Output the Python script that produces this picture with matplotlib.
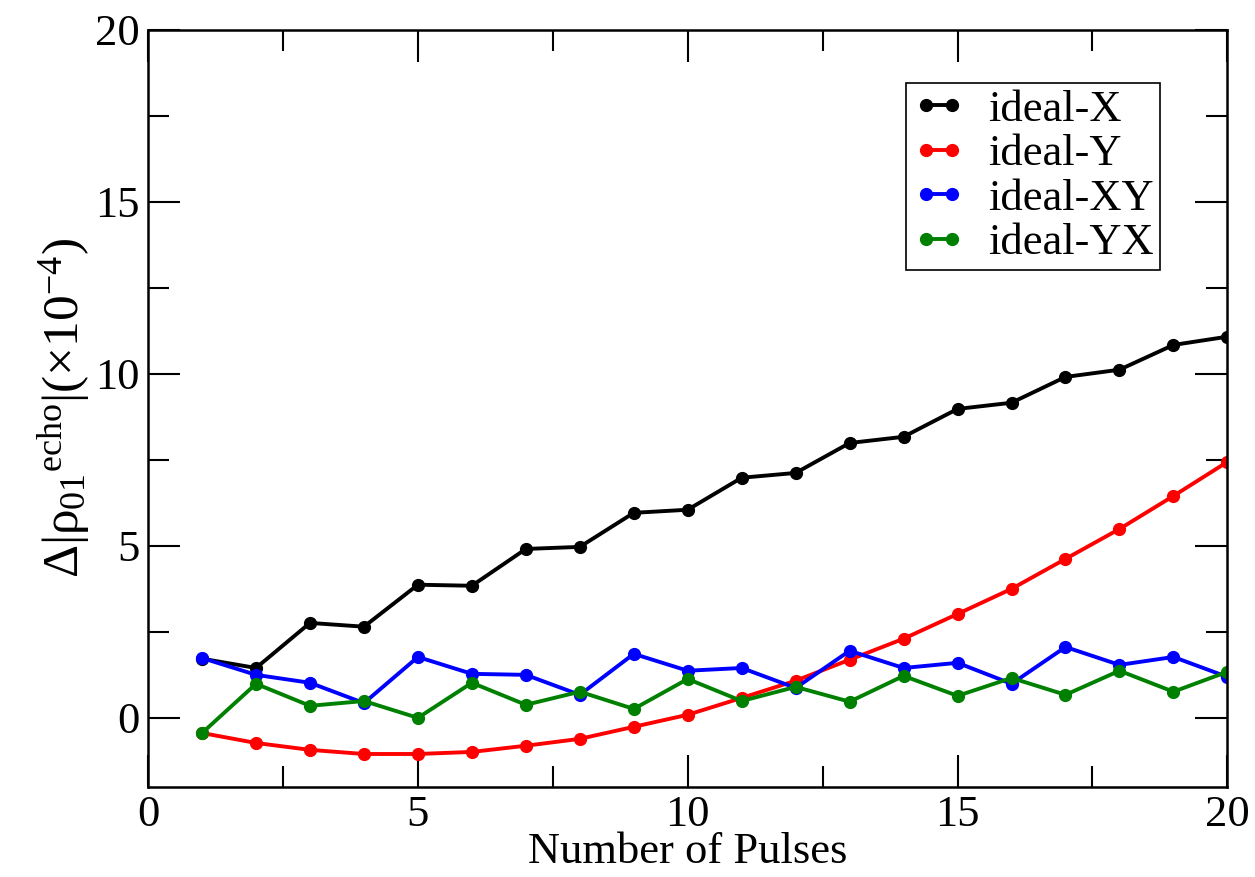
import matplotlib
matplotlib.use('Agg')
import matplotlib.pyplot as plt
from matplotlib.ticker import MultipleLocator

plt.rcParams['font.family'] = ['Liberation Serif', 'DejaVu Serif']
plt.rcParams['mathtext.fontset'] = 'custom'
plt.rcParams['mathtext.rm'] = 'Liberation Serif'
plt.rcParams['mathtext.it'] = 'Liberation Serif'

pulses = list(range(1, 21))
ideal_x = [1.72, 1.45, 2.76, 2.65, 3.87, 3.84, 4.91, 4.97, 5.96, 6.05,
           6.98, 7.12, 7.99, 8.17, 8.98, 9.16, 9.91, 10.12, 10.84, 11.08]
ideal_y = [-0.44, -0.73, -0.93, -1.05, -1.05, -0.99, -0.81, -0.61, -0.26, 0.09,
           0.58, 1.08, 1.69, 2.30, 3.02, 3.75, 4.62, 5.49, 6.45, 7.44]
ideal_xy = [1.74, 1.25, 1.02, 0.43, 1.77, 1.28, 1.25, 0.67, 1.86, 1.37,
            1.45, 0.87, 1.95, 1.45, 1.60, 0.99, 2.06, 1.54, 1.77, 1.19]
ideal_yx = [-0.44, 0.99, 0.35, 0.49, 0.0, 1.02, 0.38, 0.76, 0.26, 1.13,
            0.49, 0.90, 0.47, 1.22, 0.64, 1.16, 0.67, 1.37, 0.76, 1.34]

series = [('ideal-X', ideal_x, 'black'), ('ideal-Y', ideal_y, 'red'),
          ('ideal-XY', ideal_xy, 'blue'), ('ideal-YX', ideal_yx, 'green')]

fig = plt.figure(figsize=(12.55, 8.77), dpi=100)
ax = fig.add_axes([0.118, 0.103, 0.86, 0.863])

for name, vals, col in series:
    ax.plot(pulses, vals, '-o', color=col, lw=2.8, ms=8.5, label=name)

ax.set_xlim(0, 20)
ax.set_ylim(-2, 20)
ax.xaxis.set_major_locator(MultipleLocator(5))
ax.xaxis.set_minor_locator(MultipleLocator(2.5))
ax.yaxis.set_major_locator(MultipleLocator(5))
ax.yaxis.set_minor_locator(MultipleLocator(2.5))
ax.tick_params(which='both', direction='in', top=True, right=True, labelsize=32, width=1.5)
ax.tick_params(which='major', length=23, pad=6)
ax.tick_params(which='minor', length=15)
for s in ax.spines.values():
    s.set_linewidth(1.8)

ax.set_xlabel('Number of Pulses', fontsize=32, labelpad=-2)
ax.set_ylabel(r'$\Delta|\rho_{01}{}^{\mathrm{echo}}|(\times10^{-4})$', fontsize=37, labelpad=2)

leg = ax.legend(loc='upper left', bbox_to_anchor=(0.702, 0.93), fontsize=32,
                fancybox=False, edgecolor='black', framealpha=1, numpoints=2,
                handlelength=1.2, borderpad=0.15, labelspacing=0.1,
                handletextpad=0.5, borderaxespad=0)
leg.get_frame().set_linewidth(1.2)

fig.savefig('out.png', dpi=100)
